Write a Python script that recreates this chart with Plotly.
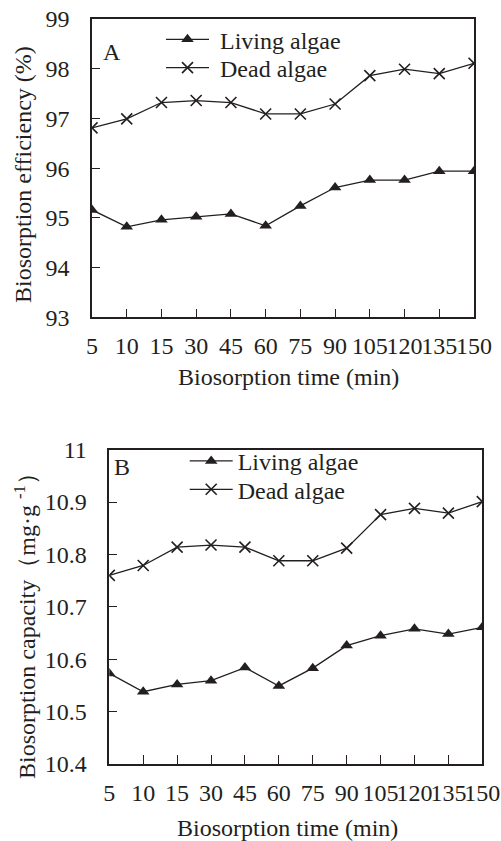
import plotly.graph_objects as go

times = ["5", "10", "15", "30", "45", "60", "75", "90", "105", "120", "135", "150"]

eff_living = [95.16, 94.82, 94.96, 95.02, 95.08, 94.84, 95.24, 95.61, 95.76, 95.76, 95.94, 95.94]
eff_dead = [96.81, 96.99, 97.32, 97.36, 97.32, 97.09, 97.09, 97.29, 97.86, 97.99, 97.90, 98.11]

cap_living = [10.573, 10.538, 10.552, 10.559, 10.584, 10.549, 10.583, 10.626, 10.645, 10.658, 10.648, 10.661]
cap_dead = [10.760, 10.779, 10.814, 10.818, 10.814, 10.788, 10.788, 10.812, 10.876, 10.888, 10.879, 10.901]

eff_ticks = [93, 94, 95, 96, 97, 98, 99]
cap_ticks = [10.4, 10.5, 10.6, 10.7, 10.8, 10.9, 11.0]
cap_ticktext = ["10.4", "10.5", "10.6", "10.7", "10.8", "10.9", "11"]

FONT = "Liberation Serif, Times New Roman, serif"
INK = "#231f20"
W, H = 501, 841

fig = go.Figure()

def px_x(p):
    return p / W

def px_y(p):
    return 1 - p / H

def add_pair(living, dead, xa, ya, leg_l, leg_d, pad):
    fig.add_trace(go.Scatter(
        x=times, y=living, name=pad + "Living algae", mode="lines+markers",
        xaxis=xa, yaxis=ya, legend=leg_l,
        line=dict(color=INK, width=1.3),
        marker=dict(symbol="triangle-up", size=11, color=INK),
    ))
    fig.add_trace(go.Scatter(
        x=times, y=dead, name=pad + "Dead algae", mode="lines+markers",
        xaxis=xa, yaxis=ya, legend=leg_d,
        line=dict(color=INK, width=1.3),
        marker=dict(symbol="x-thin-open", size=11, color=INK,
                    line=dict(color=INK, width=1.6)),
    ))

add_pair(eff_living, eff_dead, "x", "y", "legend", "legend2", "\u00a0")
add_pair(cap_living, cap_dead, "x2", "y2", "legend3", "legend4", "")

axis_common = dict(
    showline=True, linecolor=INK, linewidth=1.5, mirror=True,
    ticks="inside", tickcolor=INK, tickwidth=1,
    showgrid=False, zeroline=False, automargin=False,
    tickfont=dict(family=FONT, size=24, color=INK),
)

def leg(xp, yp):
    return dict(x=px_x(xp), y=px_y(yp), xanchor="left", yanchor="middle",
                bgcolor="rgba(0,0,0,0)", borderwidth=0, itemwidth=43,
                font=dict(family=FONT, size=24, color=INK))

fig.update_layout(
    width=W, height=H,
    margin=dict(l=0, r=0, t=0, b=0),
    paper_bgcolor="white", plot_bgcolor="white",
    font=dict(family=FONT, size=24, color=INK),
    xaxis=dict(axis_common, type="category", categoryorder="array", categoryarray=times,
               range=[0, 11], domain=[px_x(92), px_x(474)], anchor="y",
               ticklen=9, tickangle=0, ticklabelstandoff=6),
    yaxis=dict(axis_common, range=[93, 99], tickvals=eff_ticks,
               domain=[px_y(317.3), px_y(19)], anchor="x",
               ticklen=8, ticklabelstandoff=16),
    xaxis2=dict(axis_common, type="category", categoryorder="array", categoryarray=times,
                range=[0, 11], domain=[px_x(109.3), px_x(482.3)], anchor="y2",
                ticklen=9, tickangle=0, ticklabelstandoff=6),
    yaxis2=dict(axis_common, range=[10.4, 11.0], tickvals=cap_ticks, ticktext=cap_ticktext,
                domain=[px_y(764), px_y(449.7)], anchor="x2",
                ticklen=8, ticklabelstandoff=16),
    legend=leg(161, 39.7),
    legend2=leg(161, 68),
    legend3=leg(184.7, 461.3),
    legend4=leg(184.7, 489.7),
    showlegend=True,
)

ann = dict(xref="paper", yref="paper", showarrow=False, xanchor="center", yanchor="middle",
           font=dict(family=FONT, size=24, color=INK))
fig.add_annotation(ann, x=px_x(112), y=px_y(52), text="A")
fig.add_annotation(ann, x=px_x(121.5), y=px_y(466.7), text="B")
fig.add_annotation(ann, x=px_x(288), y=px_y(376.7), text="Biosorption time (min)")
fig.add_annotation(ann, x=px_x(287), y=px_y(828), text="Biosorption time (min)")
fig.add_annotation(ann, x=px_x(23), y=px_y(175), text="Biosorption efficiency (%)", textangle=-90)
fig.add_annotation(ann, x=px_x(25), y=px_y(620),
                   text="Biosorption capacity\uff08mg\u00b7g <sup>-1</sup>\uff09", textangle=-90)

fig.write_html("out.html", config={"displayModeBar": False},
               post_script="document.body.style.margin='0px';")
